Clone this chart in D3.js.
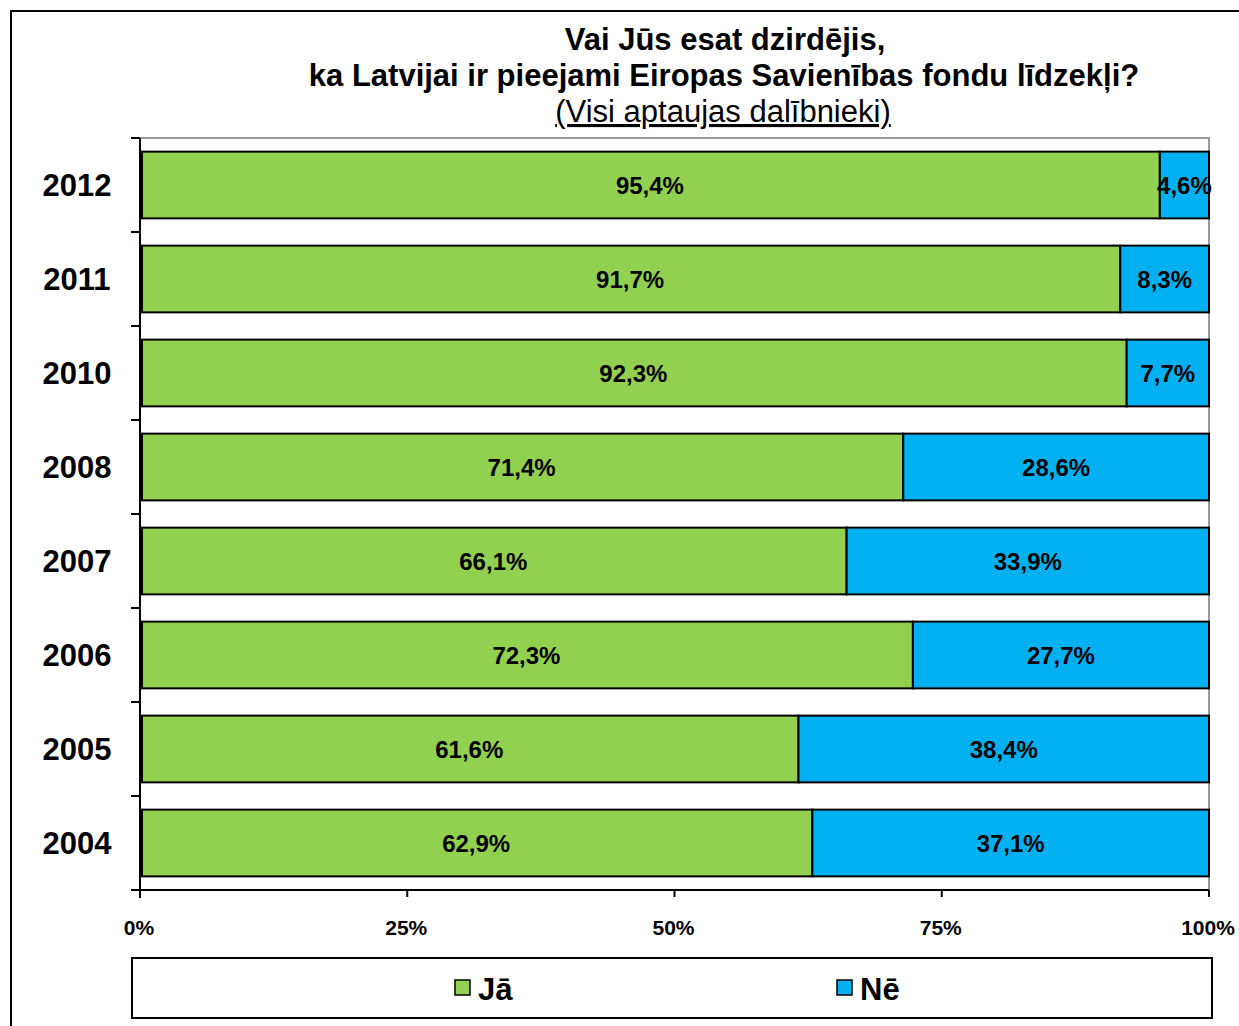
<!DOCTYPE html>
<html>
<head>
<meta charset="utf-8">
<script src="https://cdn.jsdelivr.net/npm/d3@7"></script>
<style>
  body { margin: 0; background: #fff; }
  svg text { font-family: Arial, "Liberation Sans", sans-serif; }
</style>
</head>
<body>
<div id="chart"></div>
<script>
const WIDTH = 1239;
const HEIGHT = 1026;

const years = ['2012', '2011', '2010', '2008', '2007', '2006', '2005', '2004'];
const ja = [95.4, 91.7, 92.3, 71.4, 66.1, 72.3, 61.6, 62.9];
const ne = [4.6, 8.3, 7.7, 28.6, 33.9, 27.7, 38.4, 37.1];
const seriesNames = ['Jā', 'Nē'];
const colors = ['#92D050', '#00B0F0'];
const xTicks = [0, 25, 50, 75, 100];

const M = { left: 140, right: 1209, top: 138, bottom: 890 };

const svg = d3.select('#chart').append('svg')
  .attr('width', WIDTH)
  .attr('height', HEIGHT);

// outer chart frame
svg.append('rect')
  .attr('x', 11).attr('y', 11)
  .attr('width', WIDTH + 20).attr('height', HEIGHT + 20)
  .attr('fill', 'none').attr('stroke', '#000').attr('stroke-width', 2);

// title
const title = svg.append('g').attr('text-anchor', 'middle');
title.append('text').attr('x', 725).attr('y', 50)
  .attr('font-size', 31).attr('font-weight', 'bold').text('Vai Jūs esat dzirdējis,');
title.append('text').attr('x', 724).attr('y', 86)
  .attr('font-size', 31).attr('font-weight', 'bold').text('ka Latvijai ir pieejami Eiropas Savienības fondu līdzekļi?');
title.append('text').attr('x', 723).attr('y', 122)
  .attr('font-size', 31).attr('text-decoration', 'underline').text('(Visi aptaujas dalībnieki)');

const xScale = d3.scaleLinear()
  .domain([0, 100])
  .range([M.left, M.right]);

const yScale = d3.scaleBand()
  .domain(years)
  .range([M.top, M.bottom])
  .paddingInner(0.29)
  .paddingOuter(0.145);

// plot area border (gray top/right)
svg.append('path')
  .attr('d', `M${M.left},${M.top}H${M.right}V${M.bottom}`)
  .attr('fill', 'none').attr('stroke', '#999').attr('stroke-width', 2);

// stacked bars
const rows = years.map((y, i) => ({ year: y, vals: [ja[i], ne[i]] }));
const bars = svg.append('g');
rows.forEach(r => {
  let x0 = 0;
  r.vals.forEach((v, k) => {
    const x1 = x0 + v;
    bars.append('rect')
      .attr('x', xScale(x0) + (k === 0 ? 2 : 0))
      .attr('y', yScale(r.year))
      .attr('width', xScale(x1) - xScale(x0) - (k === 0 ? 2 : 0))
      .attr('height', yScale.bandwidth())
      .attr('fill', colors[k])
      .attr('stroke', '#000')
      .attr('stroke-width', 2);
    bars.append('text')
      .attr('x', xScale((x0 + x1) / 2))
      .attr('y', yScale(r.year) + yScale.bandwidth() / 2 + 9)
      .attr('text-anchor', 'middle')
      .attr('font-size', 24).attr('font-weight', 'bold')
      .text(v.toFixed(1).replace('.', ',') + '%');
    x0 = x1;
  });
});

// y axis
const yAxis = svg.append('g');
yAxis.append('line')
  .attr('x1', M.left).attr('x2', M.left)
  .attr('y1', M.top).attr('y2', M.bottom + 8)
  .attr('stroke', '#000').attr('stroke-width', 2);
d3.range(years.length + 1).forEach(i => {
  const y = M.top + i * yScale.step();
  yAxis.append('line')
    .attr('x1', M.left - 9).attr('x2', M.left)
    .attr('y1', y).attr('y2', y)
    .attr('stroke', '#000').attr('stroke-width', 2);
});
yAxis.selectAll('text.cat')
  .data(years)
  .enter()
  .append('text')
  .attr('class', 'cat')
  .attr('x', 77)
  .attr('y', d => yScale(d) + yScale.bandwidth() / 2 + 11)
  .attr('text-anchor', 'middle')
  .attr('font-size', 31).attr('font-weight', 'bold')
  .text(d => d);

// x axis
const xAxis = svg.append('g');
xAxis.append('line')
  .attr('x1', M.left - 9).attr('x2', M.right)
  .attr('y1', M.bottom).attr('y2', M.bottom)
  .attr('stroke', '#000').attr('stroke-width', 2);
xTicks.forEach(t => {
  xAxis.append('line')
    .attr('x1', xScale(t)).attr('x2', xScale(t))
    .attr('y1', M.bottom).attr('y2', M.bottom + 7)
    .attr('stroke', '#000').attr('stroke-width', 2);
  xAxis.append('text')
    .attr('x', xScale(t) - 1)
    .attr('y', 935)
    .attr('text-anchor', 'middle')
    .attr('font-size', 21).attr('font-weight', 'bold')
    .text(t + '%');
});

// legend
const legend = svg.append('g');
legend.append('rect')
  .attr('x', 132).attr('y', 958)
  .attr('width', 1080).attr('height', 60)
  .attr('fill', '#fff').attr('stroke', '#000').attr('stroke-width', 2);
const legendX = [455, 837];
seriesNames.forEach((s, k) => {
  legend.append('rect')
    .attr('x', legendX[k]).attr('y', 980)
    .attr('width', 15).attr('height', 15)
    .attr('fill', colors[k]).attr('stroke', '#000').attr('stroke-width', 1.5);
  legend.append('text')
    .attr('x', legendX[k] + 23).attr('y', 1000)
    .attr('font-size', 31).attr('font-weight', 'bold')
    .text(s);
});
</script>
</body>
</html>
